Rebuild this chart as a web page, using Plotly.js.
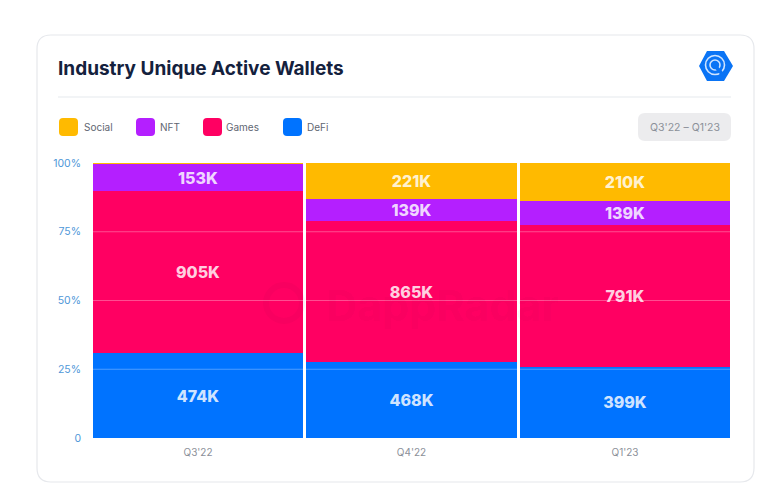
<!DOCTYPE html>
<html>
<head>
<meta charset="utf-8">
<script src="https://cdn.plot.ly/plotly-3.0.1.min.js"></script>
<style>
  html, body { margin: 0; padding: 0; background: #fff; }
  #chart { width: 784px; height: 494px; }
</style>
</head>
<body>
<div id="chart"></div>
<script>
const quarters = ["Q3'22", "Q4'22", "Q1'23"];
const defi = [474, 468, 399];
const games = [905, 865, 791];
const nft = [153, 139, 139];
const social = [5, 221, 210];
const socialLabels = ["", "221K", "210K"];

const seriesNames = ["DeFi", "Games", "NFT", "Social"];
const seriesColors = ["#0073ff", "#ff0062", "#b41fff", "#ffba00"];

const yTicks = [0, 25, 50, 75, 100];
const yTickLabels = ["0", "25%", "50%", "75%", "100%"];

const legendNames = ["Social", "NFT", "Games", "DeFi"];
const legendColors = ["#ffba00", "#b41fff", "#ff0062", "#0073ff"];
const legendSwatchX = [59, 136, 203, 283];
const legendLabelX = [82, 158, 224, 305];

// plot area in page pixels
const W = 784, H = 494;
const plotL = 93, plotR = 731, plotT = 163, plotB = 438;
const px = (x) => (x - plotL) / (plotR - plotL);
const py = (y) => (plotB - y) / (plotB - plotT);

const roundRect = (x, y, w, h, r) => {
  const x0 = px(x), x1 = px(x + w), y0 = py(y), y1 = py(y + h);
  const rx = r / (plotR - plotL), ry = r / (plotB - plotT);
  return `M${x0 + rx},${y0} L${x1 - rx},${y0} Q${x1},${y0} ${x1},${y0 - ry} ` +
    `L${x1},${y1 + ry} Q${x1},${y1} ${x1 - rx},${y1} L${x0 + rx},${y1} ` +
    `Q${x0},${y1} ${x0},${y1 + ry} L${x0},${y0 - ry} Q${x0},${y0} ${x0 + rx},${y0} Z`;
};

const pageShape = (extra) => Object.assign({xref: "paper", yref: "paper"}, extra);

const ring = (cx, cy, r, color, width) => pageShape({
  type: "circle", layer: "above",
  x0: px(cx - r), x1: px(cx + r), y0: py(cy + r), y1: py(cy - r),
  line: {color: color, width: width}
});

const pageText = (x, y, text, size, color, anchor, weight) => ({
  xref: "paper", yref: "paper", x: px(x), y: py(y), text: text, showarrow: false,
  xanchor: anchor, yanchor: "middle",
  font: {family: "Inter, 'Noto Sans', sans-serif", size: size, color: color, weight: weight || 400}
});

const hexagon = [[699, 66], [707, 51], [724, 51], [733, 66], [724, 81], [707, 81]];
const hexPath = "M" + hexagon.map((p) => px(p[0]) + "," + py(p[1])).join(" L") + " Z";

const shapes = [
  // card
  pageShape({type: "path", layer: "below", path: roundRect(37, 35, 717, 447, 14),
    fillcolor: "#ffffff", line: {color: "#e6e8ec", width: 1.2}}),
  // divider under the title
  pageShape({type: "line", layer: "below", x0: px(58), x1: px(731), y0: py(97), y1: py(97),
    line: {color: "#eef0f3", width: 1.5}}),
  // date range pill
  pageShape({type: "path", layer: "below", path: roundRect(638, 113, 93, 28, 7),
    fillcolor: "#ececee", line: {width: 0}}),
  // logo: hexagon, two rings, both broken at the lower right
  pageShape({type: "path", layer: "above", path: hexPath, fillcolor: "#0a74f5", line: {width: 0}}),
  ring(715, 65, 9.5, "#cfe4ff", 1.6),
  ring(715, 65, 5, "#cfe4ff", 1.6),
  pageShape({type: "line", layer: "above", x0: px(716), x1: px(724), y0: py(67), y1: py(76),
    line: {color: "#0a74f5", width: 3.5}}),
  // watermark circle
  ring(284, 303, 18, "rgba(110,0,50,0.05)", 6)
];

legendNames.forEach((name, i) => {
  shapes.push(pageShape({type: "path", layer: "below", path: roundRect(legendSwatchX[i], 118, 19, 18, 4),
    fillcolor: legendColors[i], line: {width: 0}}));
});

// gridlines run over the bars in the original
yTicks.slice(1, -1).forEach((t) => {
  shapes.push({type: "line", layer: "above", xref: "paper", yref: "y", x0: 0, x1: 1, y0: t, y1: t,
    line: {color: "rgba(255,255,255,0.3)", width: 1}});
});

const annotations = legendNames.map((name, i) => pageText(legendLabelX[i], 127, name, 10, "#5f6672", "left"));
annotations.push(pageText(684.5, 127, "Q3'22 – Q1'23", 10.5, "#8b9099", "center"));
annotations.push(pageText(442, 305, "DappRadar", 43, "rgba(110,0,50,0.05)", "center", 700));

const labelsOf = (values) => values.map((v) => v + "K");
const seriesValues = [defi, games, nft, social];
const seriesText = [labelsOf(defi), labelsOf(games), labelsOf(nft), socialLabels];

const traces = seriesValues.map((values, i) => ({
  type: "bar",
  name: seriesNames[i],
  x: quarters,
  y: values,
  text: seriesText[i],
  textposition: "inside",
  insidetextanchor: "middle",
  constraintext: "none",
  textangle: 0,
  textfont: {family: "Inter, 'Noto Sans', sans-serif", size: 16, color: "rgba(255,255,255,0.82)", weight: 800},
  marker: {color: seriesColors[i], line: {width: 0}},
  hoverinfo: "skip"
}));

const layout = {
  width: W,
  height: H,
  barmode: "stack",
  barnorm: "percent",
  bargap: 0.016,
  showlegend: false,
  paper_bgcolor: "#ffffff",
  plot_bgcolor: "rgba(0,0,0,0)",
  margin: {l: plotL, r: W - plotR, t: plotT, b: H - plotB, pad: 0},
  title: {
    text: "Industry Unique Active Wallets",
    x: 58 / W, xanchor: "left",
    y: 1 - 68 / H, yanchor: "middle",
    font: {family: "Inter, 'Noto Sans', sans-serif", size: 19, color: "#14213d", weight: 700}
  },
  xaxis: {
    type: "category",
    range: [-0.492, 2.4965],
    showgrid: false,
    zeroline: false,
    showline: false,
    ticks: "",
    ticklabelstandoff: 7,
    tickfont: {family: "Inter, 'Noto Sans', sans-serif", size: 10, color: "#8b9099"}
  },
  yaxis: {
    range: [0, 100],
    tickmode: "array",
    tickvals: yTicks,
    ticktext: yTickLabels,
    showgrid: false,
    zeroline: false,
    showline: false,
    ticks: "",
    ticklabelstandoff: 11,
    tickfont: {family: "Inter, 'Noto Sans', sans-serif", size: 10.5, color: "#4f97d8"}
  },
  shapes: shapes,
  annotations: annotations
};

Plotly.newPlot("chart", traces, layout, {displayModeBar: false, staticPlot: true});
</script>
</body>
</html>
